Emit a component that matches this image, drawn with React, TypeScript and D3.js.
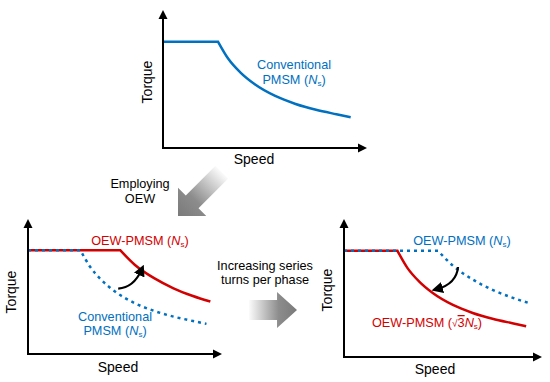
import React from "react";
import * as d3 from "d3";

// torque-speed curves, speed and torque normalised (flat torque = 1)
const conventionalSpeed = [0, 0.27, 0.32, 0.38, 0.45, 0.55, 0.65, 0.75, 0.85, 0.92];
const conventionalTorque = [1, 1, 0.84, 0.71, 0.6, 0.49, 0.415, 0.36, 0.318, 0.29];
const oewSpeed = [0, 0.475, 0.55, 0.65, 0.75, 0.85, 0.94];
const oewTorque = [1, 1, 0.86, 0.73, 0.633, 0.559, 0.505];

const BLUE = "#0070C0";
const RED = "#D20000";
const FONT = "Liberation Sans, Arial, sans-serif";

type Pt = [number, number];
const zip = (xs: number[], ys: number[]): Pt[] => xs.map((x, i) => [x, ys[i]]);

const conventional = zip(conventionalSpeed, conventionalTorque);
const oew = zip(oewSpeed, oewTorque);

type Panel = { x0: number; y0: number; x1: number; y1: number };
const panels: Record<string, Panel> = {
    top:   { x0: 163, y0: 148, x1: 367, y1: 10 },
    left:  { x0: 28,  y0: 354, x1: 222, y1: 219 },
    right: { x0: 344, y0: 357, x1: 542, y1: 219 }
};

const scales = (p: Panel) => ({
    x: d3.scaleLinear().domain([0, 1]).range([p.x0, p.x1]),
    y: d3.scaleLinear().domain([0, 1.3]).range([p.y0, p.y1])
});

const curvePath = (p: Panel, pts: Pt[]) => {
    const { x, y } = scales(p);
    const flat = d3.line<Pt>().x(d => x(d[0])).y(d => y(d[1]))(pts.slice(0, 2)) as string;
    const drop = d3.line<Pt>().x(d => x(d[0])).y(d => y(d[1])).curve(d3.curveMonotoneX)(pts.slice(1)) as string;
    return flat + drop.replace(/^M[^C L]*/, "");
};

const Axes = ({ p }: { p: Panel }) => {
    const a = 9, h = 4.5;
    return (
        <g>
            <line x1={p.x0} y1={p.y0} x2={p.x1 - a + 1} y2={p.y0} stroke="#000" strokeWidth={2} />
            <line x1={p.x0} y1={p.y0 + 1} x2={p.x0} y2={p.y1 + a - 1} stroke="#000" strokeWidth={2} />
            <polygon points={`${p.x1},${p.y0} ${p.x1 - a},${p.y0 - h} ${p.x1 - a},${p.y0 + h}`} fill="#000" />
            <polygon points={`${p.x0},${p.y1} ${p.x0 - h},${p.y1 + a} ${p.x0 + h},${p.y1 + a}`} fill="#000" />
        </g>
    );
};

const AxisLabels = ({ sx, sy, tx, ty }: { sx: number; sy: number; tx: number; ty: number }) => (
    <g fontFamily={FONT} fontSize={14} fill="#000">
        <text x={sx} y={sy} textAnchor="middle">Speed</text>
        <text transform={`translate(${tx},${ty}) rotate(-90)`} textAnchor="middle">Torque</text>
    </g>
);

const Ns = () => (
    <>
        <tspan fontStyle="italic">N</tspan>
        <tspan fontSize={8} dy={2}>s</tspan>
        <tspan dy={-2}>)</tspan>
    </>
);

const BlockArrow = ({ tx, ty, angle, L, h, H, w, id }: { tx: number; ty: number; angle: number; L: number; h: number; H: number; w: number; id: string }) => (
    <g transform={`translate(${tx},${ty}) rotate(${angle})`}>
        <defs>
            <linearGradient id={id} gradientUnits="userSpaceOnUse" x1={-L} y1={0} x2={0} y2={0}>
                <stop offset="0" stopColor="#fbfbfb" />
                <stop offset="0.62" stopColor="#8c8c8c" />
                <stop offset="1" stopColor="#7a7a7a" />
            </linearGradient>
        </defs>
        <polygon
            points={`${-L},${-w} ${-h},${-w} ${-h},${-H} 0,0 ${-h},${H} ${-h},${w} ${-L},${w}`}
            fill={`url(#${id})`}
        />
    </g>
);

const CurvedArrow = ({ p, from, ctrl, to }: { p: Panel; from: Pt; ctrl: Pt; to: Pt }) => {
    const { x, y } = scales(p);
    const path = d3.path();
    path.moveTo(x(from[0]), y(from[1]));
    path.quadraticCurveTo(x(ctrl[0]), y(ctrl[1]), x(to[0]), y(to[1]));
    return <path d={path.toString()} fill="none" stroke="#000" strokeWidth={2.2} markerEnd="url(#head)" />;
};

export default function App() {
    const P = panels;
    return (
        <svg width={550} height={382} style={{ position: "absolute", left: 0, top: 0, background: "#fff" }}>
            <defs>
                <marker id="head" viewBox="0 0 10 10" refX={5} refY={5} markerWidth={5.2} markerHeight={5.2} orient="auto" markerUnits="strokeWidth">
                    <path d="M0,0 L10,5 L0,10 z" fill="#000" />
                </marker>
            </defs>

            {/* top: conventional PMSM */}
            <path d={curvePath(P.top, conventional)} fill="none" stroke={BLUE} strokeWidth={2.5} />
            <Axes p={P.top} />
            <AxisLabels sx={254} sy={164} tx={152} ty={82} />
            <g fontFamily={FONT} fontSize={12.7} fill={BLUE} textAnchor="middle">
                <text x={294} y={69}>Conventional</text>
                <text x={294} y={84}>PMSM (<Ns /></text>
            </g>

            {/* bottom left: OEW vs conventional */}
            <path d={curvePath(P.left, oew)} fill="none" stroke={RED} strokeWidth={2.5} />
            <path d={curvePath(P.left, conventional)} fill="none" stroke={BLUE} strokeWidth={2.5} strokeDasharray="3 4" />
            <Axes p={P.left} />
            <AxisLabels sx={118} sy={372} tx={16} ty={292} />
            <g fontFamily={FONT} fontSize={12.7} textAnchor="middle">
                <text x={140} y={245} fill={RED}>OEW-PMSM (<Ns /></text>
                <text x={115} y={321} fill={BLUE}>Conventional</text>
                <text x={115} y={335} fill={BLUE}>PMSM (<Ns /></text>
            </g>
            <CurvedArrow p={P.left} from={[0.465, 0.63]} ctrl={[0.545, 0.64]} to={[0.585, 0.81]} />

            {/* bottom right: sqrt(3) Ns */}
            <path d={curvePath(P.right, conventional)} fill="none" stroke={RED} strokeWidth={2.5} />
            <path d={curvePath(P.right, oew)} fill="none" stroke={BLUE} strokeWidth={2.5} strokeDasharray="3 4" />
            <Axes p={P.right} />
            <AxisLabels sx={435} sy={374} tx={332} ty={290} />
            <g fontFamily={FONT} fontSize={12.7} textAnchor="middle">
                <text x={462} y={245} fill={BLUE}>OEW-PMSM (<Ns /></text>
                <text x={427} y={327} fill={RED}>
                    OEW-PMSM (
                    <tspan fontSize={10}>√</tspan>
                    <tspan style={{ textDecoration: "overline" }}>3</tspan>
                    <Ns />
                </text>
            </g>
            <CurvedArrow p={P.right} from={[0.576, 0.848]} ctrl={[0.568, 0.69]} to={[0.47, 0.64]} />

            {/* transitions */}
            <BlockArrow id="g1" tx={178} ty={216} angle={135} L={62} h={20} H={20} w={9} />
            <BlockArrow id="g2" tx={297} ty={310} angle={0} L={48} h={20} H={18} w={10} />
            <g fontFamily={FONT} fontSize={12.7} fill="#000" textAnchor="middle">
                <text x={140} y={188}>Employing</text>
                <text x={140} y={203}>OEW</text>
                <text x={265} y={270}>Increasing series</text>
                <text x={265} y={284}>turns per phase</text>
            </g>
        </svg>
    );
}
